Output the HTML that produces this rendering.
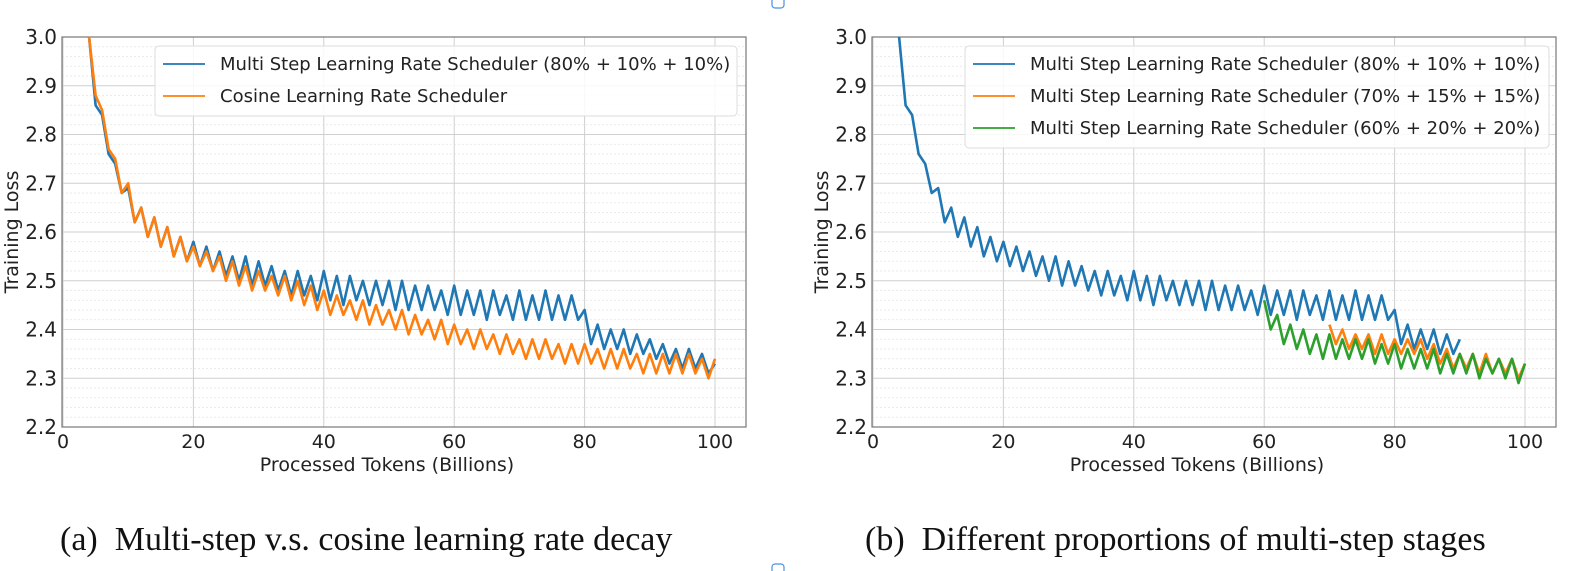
<!DOCTYPE html>
<html><head><meta charset="utf-8"><style>
body{margin:0;background:#fff;width:1572px;height:571px;overflow:hidden}
svg{display:block}
text{font-family:"DejaVu Sans","Liberation Sans",sans-serif;fill:#222}
.cap{font-family:"Liberation Serif",serif;font-size:34px;fill:#111}
</style></head><body>
<svg id="chart" width="1572" height="571"></svg>
<script>
const blueX0 = 4;
const multiStep80 = [3.00,2.86,2.84,2.76,2.74,2.68,2.69,2.62,2.65,2.59,2.63,2.57,2.61,2.55,2.59,2.54,2.58,2.53,2.57,2.52,2.56,2.51,2.55,2.50,2.55,2.49,2.54,2.49,2.53,2.48,2.52,2.47,2.52,2.47,2.51,2.46,2.52,2.46,2.51,2.45,2.51,2.46,2.50,2.45,2.50,2.45,2.50,2.44,2.50,2.44,2.49,2.44,2.49,2.44,2.48,2.43,2.49,2.43,2.48,2.43,2.48,2.42,2.48,2.43,2.47,2.42,2.48,2.42,2.47,2.42,2.48,2.42,2.47,2.42,2.47,2.42,2.44,2.37,2.41,2.36,2.40,2.36,2.40,2.35,2.39,2.35,2.38,2.34,2.37,2.33,2.36,2.32,2.36,2.32,2.35,2.31,2.33];
const cosineVals = [3.00,2.88,2.85,2.77,2.75,2.68,2.70,2.62,2.65,2.59,2.63,2.57,2.61,2.55,2.59,2.54,2.57,2.53,2.56,2.52,2.55,2.50,2.54,2.49,2.53,2.48,2.52,2.48,2.51,2.47,2.51,2.46,2.50,2.45,2.49,2.44,2.48,2.43,2.47,2.43,2.46,2.42,2.46,2.41,2.45,2.41,2.44,2.40,2.44,2.39,2.43,2.39,2.42,2.38,2.42,2.37,2.41,2.37,2.40,2.36,2.40,2.36,2.39,2.35,2.39,2.35,2.38,2.34,2.38,2.34,2.38,2.34,2.37,2.33,2.37,2.33,2.37,2.33,2.36,2.32,2.36,2.32,2.36,2.32,2.35,2.31,2.35,2.31,2.35,2.31,2.35,2.31,2.35,2.31,2.34,2.30,2.34];
const multi70X0 = 70;
const multiStep70 = [2.41,2.37,2.40,2.36,2.39,2.36,2.39,2.35,2.39,2.35,2.38,2.35,2.38,2.35,2.38,2.34,2.37,2.33,2.36,2.32,2.35,2.32,2.35,2.31,2.35,2.31,2.34,2.31,2.34,2.30,2.33];
const multi60X0 = 60;
const multiStep60 = [2.46,2.40,2.43,2.37,2.41,2.36,2.40,2.35,2.39,2.34,2.39,2.34,2.38,2.34,2.38,2.34,2.38,2.33,2.37,2.33,2.37,2.32,2.36,2.32,2.36,2.32,2.36,2.31,2.35,2.31,2.35,2.31,2.35,2.30,2.34,2.31,2.34,2.30,2.34,2.29,2.33];
const xTicks = [0,20,40,60,80,100];
const yTicks = [2.2,2.3,2.4,2.5,2.6,2.7,2.8,2.9,3.0];
const legendA = ["Multi Step Learning Rate Scheduler (80% + 10% + 10%)","Cosine Learning Rate Scheduler"];
const legendB = ["Multi Step Learning Rate Scheduler (80% + 10% + 10%)","Multi Step Learning Rate Scheduler (70% + 15% + 15%)","Multi Step Learning Rate Scheduler (60% + 20% + 20%)"];

const NS="http://www.w3.org/2000/svg";
const svg=document.getElementById('chart');
function mk(tag,attrs,parent){const e=document.createElementNS(NS,tag);for(const k in attrs)e.setAttribute(k,attrs[k]);(parent||svg).appendChild(e);return e;}
const BLUE="#1f77b4",ORANGE="#ff7f0e",GREEN="#2ca02c";

function panel(ox,tag){
  const L=ox, R=ox+684, T=37, B=427;
  const xs=v=>L+1+v*6.52;
  const ys=v=>B-(v-2.2)/0.8*(B-T);
  const g=mk('g',{});
  
  
  for(let v=2.2;v<3.0;v+=0.02){const y=ys(v);mk('line',{x1:L,x2:R,y1:y,y2:y,stroke:'#e4e4e4','stroke-width':0.8,'stroke-dasharray':'2,2'},g);}
  yTicks.forEach(v=>{const l=mk('line',{x1:L,x2:R,y1:ys(v),y2:ys(v),stroke:'#d0d0d0','stroke-width':1},g);
    
    const t=mk('text',{x:L-5,y:ys(v)+7,'text-anchor':'end','font-size':20},g);t.textContent=v.toFixed(1);
    });
  xTicks.forEach(v=>{const l=mk('line',{x1:xs(v),x2:xs(v),y1:T,y2:B,stroke:'#d0d0d0','stroke-width':1},g);
    
    const t=mk('text',{x:xs(v),y:B+21,'text-anchor':'middle','font-size':19},g);t.textContent=v;
    });
  const clip=mk('clipPath',{id:'clip'+tag},g);mk('rect',{x:L,y:T,width:R-L,height:B-T},clip);
  function series(vals,x0,col,name){
    const pts=vals.map((v,i)=>xs(x0+i).toFixed(1)+','+ys(v).toFixed(1)).join(' ');
    const p=mk('polyline',{points:pts,fill:'none',stroke:col,'stroke-width':2.6,'stroke-linejoin':'round','clip-path':'url(#clip'+tag+')'},g);
    
  }
  mk('rect',{x:L,y:T,width:R-L,height:B-T,fill:'none',stroke:'#777','stroke-width':1.2},g);
  const yl=mk('text',{x:0,y:0,'text-anchor':'middle','font-size':19,transform:`translate(${ox-44},232) rotate(-90)`},g);yl.textContent='Training Loss';
  
  const xl=mk('text',{x:(L+R)/2-17,y:B+44,'text-anchor':'middle','font-size':19},g);xl.textContent='Processed Tokens (Billions)';
  
  return {g,series,L,R};
}

const A=panel(62,'a');
A.series(multiStep80,blueX0,BLUE,'series-multistep-80');
A.series(cosineVals,blueX0,ORANGE,'series-cosine');
const B2=panel(872,'b');
B2.series(multiStep80.slice(0,87),blueX0,BLUE,'series-multistep-80');
B2.series(multiStep70,multi70X0,ORANGE,'series-multistep-70');
B2.series(multiStep60,multi60X0,GREEN,'series-multistep-60');

function legend(g,x,y,w,labels,cols){
  const h=labels.length*32+6;
  const lg=mk('g',{},g);
  
  mk('rect',{x:x,y:y,width:w,height:h,rx:4,fill:'#fff','fill-opacity':0.85,stroke:'#ddd'},lg);
  labels.forEach((s,i)=>{const cy=y+18+i*32;
    const e=mk('g',{},lg);
    mk('line',{x1:x+8,x2:x+50,y1:cy,y2:cy,stroke:cols[i],'stroke-width':1.8},e);
    const t=mk('text',{x:x+65,y:cy+6,'font-size':18},e);t.textContent=s;});
}
legend(A.g,155,46,582,legendA,[BLUE,ORANGE]);
legend(B2.g,965,46,584,legendB,[BLUE,ORANGE,GREEN]);

const c1=mk('text',{x:60,y:550,class:'cap'});c1.textContent='(a)\u2002Multi-step v.s. cosine learning rate decay';

const c2=mk('text',{x:865,y:550,class:'cap'});c2.textContent='(b)\u2002Different proportions of multi-step stages';

const m1=mk('rect',{x:772,y:-4,width:12,height:12,rx:3,fill:'none',stroke:'#4a90e2','stroke-width':1.2});

const m2=mk('rect',{x:772,y:564,width:12,height:12,rx:3,fill:'none',stroke:'#4a90e2','stroke-width':1.2});

</script>
</body></html>
